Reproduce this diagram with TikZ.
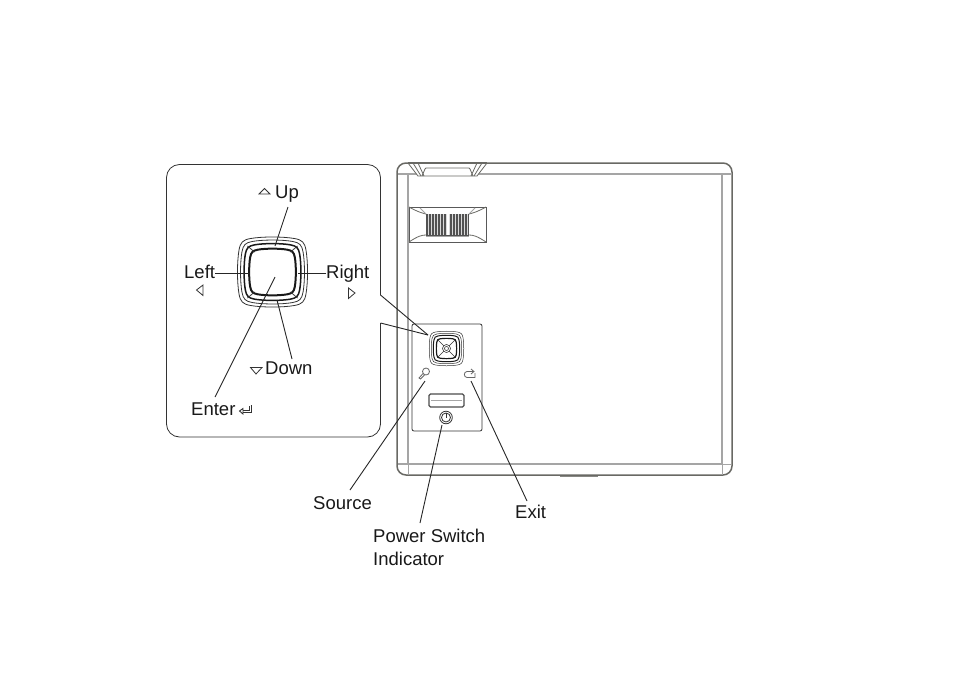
\documentclass[tikz,border=0pt]{standalone}
\usepackage{fontspec}
\setmainfont{Liberation Sans}
\definecolor{bodyline}{RGB}{105,105,100}
\definecolor{innerline}{RGB}{165,165,165}
\tikzset{
  lbl/.style={anchor=base west,inner sep=0pt,font=\fontsize{18.5}{22}\selectfont,text=black!90},
  leader/.style={draw=black!85,line width=0.9pt},
  thin ink/.style={draw=black!80,line width=0.8pt},
  heavy ink/.style={draw=black!90,line width=1.6pt},
  outer shell/.style={draw=bodyline,line width=1.5pt},
  inner shell/.style={draw=innerline,line width=1.5pt},
}
\newcommand{\squirclepath}[2]{
  ($#1+(-0.64*#2,-0.97*#2)$)
  .. controls ($#1+(-0.3*#2,-1.03*#2)$) and ($#1+(0.3*#2,-1.03*#2)$) .. ($#1+(0.64*#2,-0.97*#2)$)
  .. controls ($#1+(0.86*#2,-0.93*#2)$) and ($#1+(0.93*#2,-0.86*#2)$) .. ($#1+(0.97*#2,-0.64*#2)$)
  .. controls ($#1+(1.03*#2,-0.3*#2)$) and ($#1+(1.03*#2,0.3*#2)$) .. ($#1+(0.97*#2,0.64*#2)$)
  .. controls ($#1+(0.93*#2,0.86*#2)$) and ($#1+(0.86*#2,0.93*#2)$) .. ($#1+(0.64*#2,0.97*#2)$)
  .. controls ($#1+(0.3*#2,1.03*#2)$) and ($#1+(-0.3*#2,1.03*#2)$) .. ($#1+(-0.64*#2,0.97*#2)$)
  .. controls ($#1+(-0.86*#2,0.93*#2)$) and ($#1+(-0.93*#2,0.86*#2)$) .. ($#1+(-0.97*#2,0.64*#2)$)
  .. controls ($#1+(-1.03*#2,0.3*#2)$) and ($#1+(-1.03*#2,-0.3*#2)$) .. ($#1+(-0.97*#2,-0.64*#2)$)
  .. controls ($#1+(-0.93*#2,-0.86*#2)$) and ($#1+(-0.86*#2,-0.93*#2)$) .. cycle
}
\usetikzlibrary{calc}
\begin{document}
\begin{tikzpicture}[x=1pt,y=-1pt]
\useasboundingbox (0,0) rectangle (954,675);
\fill[white] (0,0) rectangle (954,675);

% ---- projector body
\draw[outer shell,rounded corners=9pt] (397,163) rectangle (732,475);
\draw[inner shell] (408,174) rectangle (722,464);
\draw[inner shell] (397.5,174) -- (408,174) (722,174) -- (732,174);
\draw[inner shell,line width=0.7pt] (722,464) -- (731,464) (722,464) -- (722,475);
\draw[inner shell,line width=0.7pt] (408,464) -- (408,475);
\draw[inner shell] (408,464) -- (397.5,464);
\draw[bodyline!80,line width=1.6pt] (560,476.5) -- (598,476.5);

% top recess
\fill[white] (408,162) -- (418,176) -- (477,176) -- (487,162) -- cycle;
\draw[bodyline,line width=1.5pt] (408,163) -- (487,163);
\draw[thin ink,draw=bodyline] (408,163) -- (418,176) -- (477,176) -- (487,163);
\draw[thin ink,draw=bodyline] (413,163) -- (421,176) (418,163) -- (424,176);
\draw[thin ink,draw=bodyline] (482,163) -- (474,176) (477,163) -- (471,176);
\draw[thin ink,draw=bodyline] (422,176) -- (425,169) -- (426,168) -- (469,168) -- (470,169) -- (473,176);

% focus wheel / vent
\draw[thin ink,draw=black!65] (409,207) rectangle (486,242);
\draw[thin ink,draw=bodyline] (409,207) .. controls (418,212) and (422,213) .. (426,214);
\draw[thin ink,draw=bodyline] (486,207) .. controls (477,212) and (473,213) .. (469,214);
\draw[thin ink,draw=bodyline] (409,242) .. controls (418,236) and (422,235) .. (426,235);
\draw[thin ink,draw=bodyline] (486,242) .. controls (477,236) and (473,235) .. (469,235);
\draw[thin ink,draw=innerline] (420,208) -- (426,214) (475,208) -- (469,214);
\fill[black!68] (426,213.5) rectangle (469,235.5);
\foreach \gx in {428,431,...,467}{\draw[white!70!gray,line width=0.6pt] (\gx,214) -- (\gx,235);}
\fill[white] (447,214) rectangle (449,235);
\draw[innerline,line width=1pt] (426,236) -- (469,236);

% ---- control panel on the body
\draw[thin ink,rounded corners=2pt,fill=white] (412,324) rectangle (482,431);
\coordinate (smallpad) at (446.5,348.5);
\draw[thin ink,line width=0.5pt] \squirclepath{(smallpad)}{17};
\draw[thin ink,line width=0.5pt] \squirclepath{(smallpad)}{15};
\draw[heavy ink,line width=1pt] \squirclepath{(smallpad)}{13};
\draw[heavy ink,line width=1.2pt] \squirclepath{(smallpad)}{10};
\draw[thin ink,line width=0.5pt] ($(smallpad)+(-9,-9)$) -- ($(smallpad)+(9,9)$) ($(smallpad)+(9,-9)$) -- ($(smallpad)+(-9,9)$);
\draw[thin ink,line width=0.6pt,fill=white] (smallpad) circle (4);
\draw[thin ink,line width=0.6pt] (smallpad) circle (2);
% source icon
\draw[thin ink,draw=black!60] (426,371.5) circle (3.5);
\draw[thin ink,draw=black!60] (423,373.5) -- (419,378) -- (420.5,379) -- (424.5,375);
% exit icon
\draw[thin ink,draw=black!60] (473,371.5) -- (467,371.5) .. controls (463.5,371.5) and (463.5,377.5) .. (467,377.5) -- (475,377.5) -- (475,373) ;
\draw[thin ink,draw=black!60] (471,369) -- (474,371.5) -- (471,374);
% power switch
\draw[draw=black!70,line width=1.3pt,rounded corners=1.5pt] (429,394) rectangle (464,407);
\draw[draw=black!35,line width=0.6pt] (431,400.5) -- (462,400.5);
\draw[thin ink] (446,417.5) circle (6.3);
\draw[thin ink] (446,417.5) circle (4.5);
\draw[thin ink,line width=1pt] (446,412.5) -- (446,418);

% ---- magnified callout
\draw[thin ink,rounded corners=13pt] (380.5,295) -- (380.5,164.5) -- (166.5,164.5) -- (166.5,437) -- (380.5,437) -- (380.5,323);
\coordinate (tipA) at (380.5,295);
\coordinate (tipB) at (380.5,323);
\coordinate (panelcorner) at (428,335);
\draw[leader] (tipA) -- (panelcorner);
\draw[leader] (tipB) -- (panelcorner);

% big pad
\coordinate (pad) at (272.5,272);
\draw[thin ink,line width=0.8pt] \squirclepath{(pad)}{34.5};
\draw[thin ink,line width=0.8pt] \squirclepath{(pad)}{31.5};
\draw[heavy ink,line width=1.5pt] \squirclepath{(pad)}{28};
\draw[heavy ink,line width=2pt] \squirclepath{(pad)}{23};
\draw[thin ink] ($(pad)+(-18,-20)$) -- ($(pad)+(-25,-26)$) ($(pad)+(18,-20)$) -- ($(pad)+(25,-26)$)
  ($(pad)+(-18,20)$) -- ($(pad)+(-25,26)$) ($(pad)+(18,20)$) -- ($(pad)+(25,26)$);

% ---- labels
\node[lbl] (up) at (275,198.5) {Up};
\node[lbl] (left) at (184,278.5) {Left};
\node[lbl] (right) at (326,278.5) {Right};
\node[lbl] (down) at (265,374) {Down};
\node[lbl] (enter) at (191,415) {Enter};
\node[lbl] (source) at (313,509) {Source};
\node[lbl] (exit) at (515,518) {Exit};
\node[lbl] (power) at (373,542) {Power Switch};
\node[lbl] (indicator) at (373,565) {Indicator};

% direction glyphs
\draw[thin ink] (259,194) -- (264.5,188.5) -- (270,194) -- cycle;
\draw[thin ink] (203,285) -- (196.5,290) -- (203,295.5) -- cycle;
\draw[thin ink] (348.5,288) -- (355,293) -- (348.5,298.5) -- cycle;
\draw[thin ink] (250.5,367.5) -- (262,367.5) -- (256,374) -- cycle;
\draw[thin ink,line width=0.9pt] (250.5,405.5) -- (251.5,405.5) -- (251.5,412) -- (243,412);
\draw[thin ink,line width=0.9pt] (243,408.5) -- (239.5,411) -- (243,414) -- cycle;
\draw[thin ink,line width=0.9pt] (243,410.3) -- (249.5,410.3) -- (249.5,405.5);

% ---- connectors
\coordinate (upEnd) at (275,246);
\coordinate (leftEnd) at (250,273);
\coordinate (rightEnd) at (298,273);
\coordinate (downEnd) at (277,300);
\coordinate (enterEnd) at (275,277);
\coordinate (sourceEnd) at (425,381);
\coordinate (exitEnd) at (471,381);
\coordinate (powerEnd) at (442,425);
\draw[leader] (288,207) -- (upEnd);
\draw[leader] (left.base east |- 0,273) -- (leftEnd);
\draw[leader] (right.base west |- 0,273) -- (rightEnd);
\draw[leader] (292,359) -- (downEnd);
\draw[leader] (215,397) -- (enterEnd);
\draw[leader] (350,490) -- (sourceEnd);
\draw[leader] (527,501) -- (exitEnd);
\draw[leader] (420,523) -- (powerEnd);
\end{tikzpicture}
\end{document}
